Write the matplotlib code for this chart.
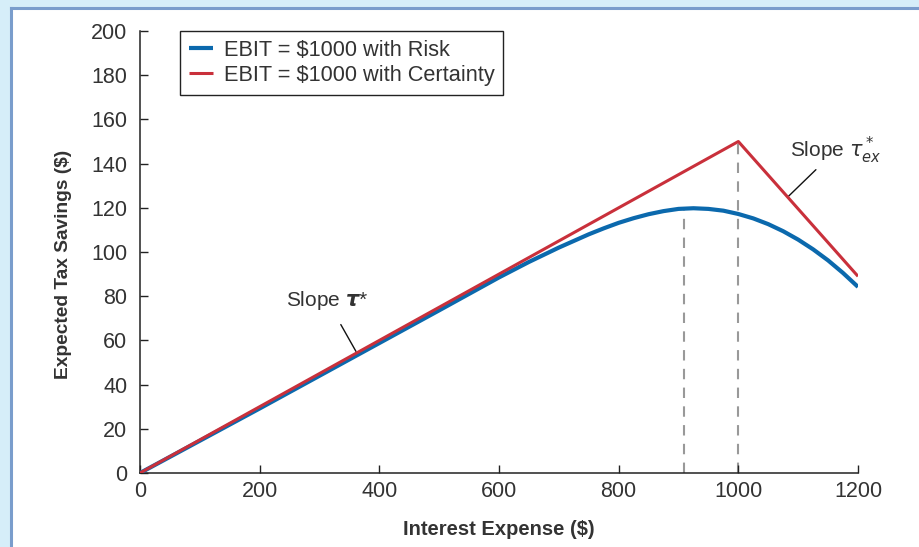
import matplotlib
matplotlib.use('Agg')
import matplotlib.pyplot as plt
from matplotlib.patches import Rectangle
from matplotlib.lines import Line2D

# data
interest = [0, 200, 400, 500, 600, 650, 700, 725, 750, 775, 800, 825, 850, 875,
            900, 925, 950, 975, 1000, 1025, 1050, 1075, 1100, 1125, 1150, 1175, 1200]
risk = [0, 29.2, 58.8, 73.6, 88.5, 95.5, 102, 105, 108, 110.7, 113.2, 115.3, 117.1, 118.5,
        119.5, 119.8, 119.5, 118.7, 117.2, 115.2, 112.6, 109.4, 105.6, 101.2, 96.2, 90.5, 84.2]
cert_x = [0, 1000, 1200]
cert_y = [0, 150, 89]
vlines_x = [910, 1000]
vlines_top = [120, 150]
xticks = [0, 200, 400, 600, 800, 1000, 1200]
yticks = [0, 20, 40, 60, 80, 100, 120, 140, 160, 180, 200]

plt.rcParams['font.family'] = ['Liberation Sans', 'DejaVu Sans']
txt = '#333333'
blue = '#0b69ad'
red = '#c9303b'

fig = plt.figure(figsize=(9.2, 5.47), dpi=100)
fig.patch.set_facecolor('#d6eef9')
# white panel with blue border on left/top
fig.add_artist(Rectangle((11/920, -0.05), 1.0, (547-8)/547 + 0.05, transform=fig.transFigure,
                         facecolor='white', edgecolor='none', zorder=0))
fig.add_artist(Line2D([11/920, 11/920], [0, (547-8)/547], transform=fig.transFigure,
                      color='#7a9dcc', lw=2.2))
fig.add_artist(Line2D([11/920, 1], [(547-8)/547, (547-8)/547], transform=fig.transFigure,
                      color='#7a9dcc', lw=2.2))

ax = fig.add_axes([140/920, (547-473)/547, 718/920, 442/547])
ax.set_facecolor('none')

for xv, top in zip(vlines_x, vlines_top):
    ax.plot([xv, xv], [0, top], color='#999999', lw=1.5, dashes=(5, 4), zorder=1)

ax.plot(interest, risk, color=blue, lw=3, solid_capstyle='butt', zorder=3,
        label='EBIT = $1000 with Risk')
ax.plot(cert_x, cert_y, color=red, lw=2.2, solid_capstyle='butt', zorder=4,
        label='EBIT = $1000 with Certainty')

ax.set_xlim(0, 1200)
ax.set_ylim(0, 200)
ax.set_xticks(xticks)
ax.set_yticks(yticks)
ax.spines['top'].set_visible(False)
ax.spines['right'].set_visible(False)
for s in ['left', 'bottom']:
    ax.spines[s].set_color('#222222')
    ax.spines[s].set_linewidth(1.1)
ax.tick_params(direction='in', length=6, width=1, color='#222222',
               labelsize=15.5, labelcolor=txt)
ax.tick_params(axis='y', pad=9)
ax.tick_params(axis='x', pad=6)

ax.set_xlabel('Interest Expense ($)', fontsize=14.5, fontweight='bold', color=txt,
              labelpad=13)
ax.set_ylabel('Expected Tax Savings ($)', fontsize=13.8, fontweight='bold', color=txt)
ax.yaxis.set_label_coords(-0.095, 0.473)

# annotations
ax.annotate('Slope $\\boldsymbol{\\tau}$*', xy=(361, 55), xytext=(313, 78),
            fontsize=15, color=txt, ha='center', va='center',
            arrowprops=dict(arrowstyle='-', color='#111111', lw=1, shrinkA=8, shrinkB=0))
ax.annotate('Slope $\\tau^*_{ex}$', xy=(1083, 125), xytext=(1163, 146),
            fontsize=15, color=txt, ha='center', va='center',
            arrowprops=dict(arrowstyle='-', color='#111111', lw=1, shrinkA=1, shrinkB=0))

leg = ax.legend(loc='upper left', bbox_to_anchor=(40/718, 1.0), borderaxespad=0,
                fontsize=15.7, handlelength=1.1, handletextpad=0.5, borderpad=0.4,
                labelspacing=0.2, fancybox=False, framealpha=1, edgecolor='#222222',
                labelcolor=txt)
leg.get_frame().set_linewidth(1)

fig.savefig('out.png', dpi=100, facecolor=fig.get_facecolor())
